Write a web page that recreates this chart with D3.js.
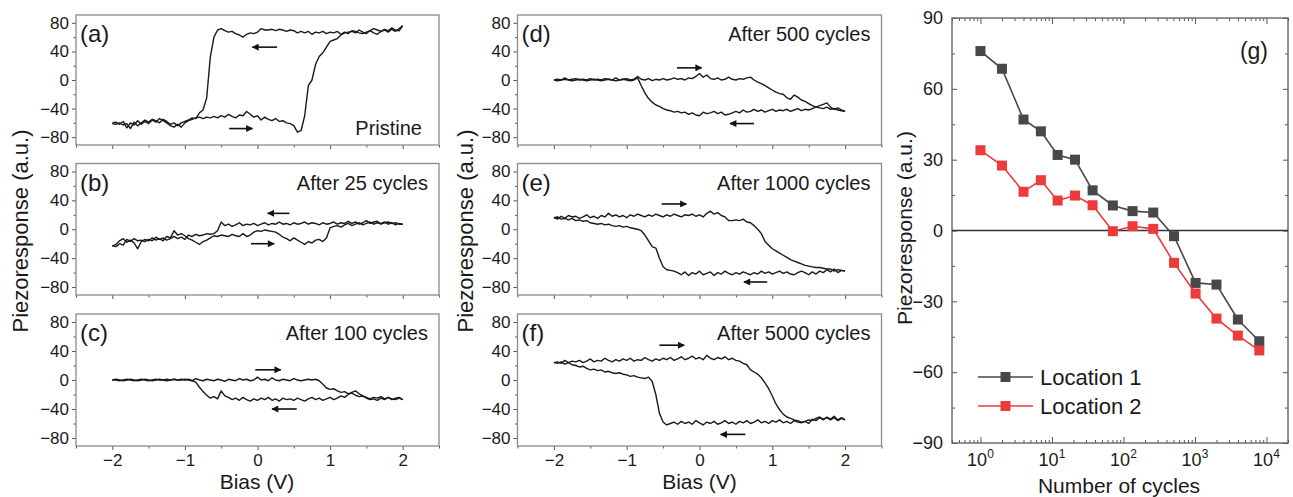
<!DOCTYPE html>
<html>
<head>
<meta charset="utf-8">
<script src="https://cdn.jsdelivr.net/npm/d3@7"></script>
<style>
  body { margin: 0; background: #fff; }
  text { font-family: "Liberation Sans", Arial, sans-serif; fill: #1a1a1a; }
</style>
</head>
<body>
<svg id="fig" width="1293" height="497"></svg>
<script>
// bias sweep (V), shared by all six loops
var bias = [-2, -1.95, -1.9, -1.85, -1.8, -1.75, -1.7, -1.65, -1.6, -1.55,
  -1.5, -1.45, -1.4, -1.35, -1.3, -1.25, -1.2, -1.15, -1.1, -1.05,
  -1, -0.95, -0.9, -0.85, -0.8, -0.75, -0.7, -0.65, -0.6, -0.55,
  -0.5, -0.45, -0.4, -0.35, -0.3, -0.25, -0.2, -0.15, -0.1, -0.05,
  0, 0.05, 0.1, 0.15, 0.2, 0.25, 0.3, 0.35, 0.4, 0.45,
  0.5, 0.55, 0.6, 0.65, 0.7, 0.75, 0.8, 0.85, 0.9, 0.95,
  1, 1.05, 1.1, 1.15, 1.2, 1.25, 1.3, 1.35, 1.4, 1.45,
  1.5, 1.55, 1.6, 1.65, 1.7, 1.75, 1.8, 1.85, 1.9, 1.95, 2];

// (a) pristine
var aFwd = [-60, -59, -62, -58, -67, -60, -63, -57, -62, -58,
  -61, -56, -59, -54, -57, -60, -64, -66, -62, -66,
  -60, -57, -55, -53, -52, -54, -52, -53, -51, -53,
  -50, -52, -48, -51, -53, -49, -50, -44, -48, -52,
  -50, -56, -52, -55, -57, -54, -58, -57, -60, -61,
  -64, -73, -71, -50, -8, 0, 22, 33, 38, 46,
  54, 56, 58, 63, 66, 67, 68, 66, 70, 67,
  65, 69, 66, 64, 68, 70, 67, 71, 68, 72, 76];
var aRev = [-61, -62, -60, -63, -61, -68, -59, -64, -60, -56,
  -59, -55, -57, -60, -55, -58, -62, -60, -64, -60,
  -58, -56, -53, -54, -46, -42, -25, 32, 60, 70,
  72, 69, 67, 68, 65, 63, 60, 64, 66, 65,
  67, 72, 70, 70, 71, 69, 71, 70, 68, 70,
  69, 66, 68, 66, 68, 64, 67, 66, 68, 65,
  67, 66, 68, 64, 67, 65, 69, 68, 66, 65,
  67, 69, 72, 70, 68, 71, 69, 73, 70, 69, 76];

// (b) after 25 cycles
var bFwd = [-23, -21, -16, -13, -18, -15, -19, -27, -17, -14,
  -16, -12, -15, -13, -16, -10, -12, -2, -8, -6,
  -9, -13, -15, -18, -21, -17, -15, -12, -9, -10,
  -8, -9, -10, -7, -9, -10, -6, -10, -8, -4,
  -2, -3, -1, -2, -3, -4, -7, -11, -13, -16,
  -12, -15, -18, -21, -17, -19, -15, -14, -17, -12,
  2, 4, 5, 3, 6, 8, 5, 7, 9, 6,
  8, 10, 7, 9, 8, 10, 7, 9, 6, 8, 7];
var bRev = [-23, -24, -20, -22, -14, -17, -13, -16, -15, -17,
  -14, -16, -11, -14, -12, -15, -13, -10, -13, -11,
  -14, -8, -10, -7, -9, -8, -6, -7, -6, -2,
  10, 5, 7, 4, 6, 9, 5, 7, 6, 8,
  5, 7, 9, 6, 8, 7, 10, 7, 8, 6,
  9, 7, 8, 10, 7, 9, 8, 6, 9, 7,
  8, 10, 7, 9, 8, 11, 8, 10, 7, 9,
  12, 8, 10, 11, 7, 9, 10, 8, 9, 7, 7];

// (c) after 100 cycles
var cFwd = [0, 0, -1, 0, 1, 0, -1, 0, 1, 0,
  -1, 0, 1, 0, 0, 1, 0, 1, 0, 1,
  0, 1, -1, 2, 0, -1, 1, 0, -1, 1,
  0, -2, 1, 0, -1, 2, 0, 1, -1, 0,
  4, 0, 1, -1, 3, 0, -1, 1, 0, -1,
  2, 0, -1, 0, 1, 0, 1, -1, -6, -11,
  -13, -12, -15, -17, -16, -19, -18, -21, -23, -22,
  -25, -27, -26, -28, -25, -27, -24, -26, -27, -25, -27];
var cRev = [0, 1, 0, -1, 0, 1, 0, -1, 0, 1,
  0, -1, 0, 1, 0, -1, 0, 1, 0, 0,
  1, 0, -1, -3, -10, -16, -21, -25, -23, -26,
  -15, -22, -24, -27, -25, -28, -24, -27, -29, -26,
  -28, -25, -27, -24, -28, -26, -29, -25, -27, -26,
  -28, -25, -27, -29, -26, -24, -27, -25, -28, -26,
  -24, -27, -25, -22, -24, -20, -17, -15, -19, -22,
  -24, -26, -24, -25, -23, -26, -24, -27, -25, -24, -27];

// (d) after 500 cycles
var dFwd = [0, 1, 0, 3, 0, 1, 2, 0, 1, 0,
  2, 0, 1, 0, 2, 1, 0, 3, 0, 1,
  2, 0, 1, 5, 1, 0, 2, -1, 1, 0,
  2, 0, 1, 3, 1, 2, 0, 3, 2, 5,
  9, 4, 7, 2, 1, 3, 0, 1, 4, 1,
  0, 2, 1, 3, 4, 0, -3, -5, -8, -11,
  -14, -17, -19, -20, -25, -27, -21, -24, -28, -30,
  -33, -36, -38, -39, -40, -38, -41, -40, -42, -43, -44];
var dRev = [0, -1, 0, 1, 0, -1, 0, 1, 0, -1,
  0, 1, 0, -1, 0, 1, 0, -1, 0, 1,
  0, -1, 0, 3, -8, -18, -26, -31, -35, -37,
  -40, -42, -43, -45, -44, -46, -45, -48, -46, -49,
  -50, -45, -47, -46, -44, -47, -45, -49, -48, -46,
  -44, -46, -42, -45, -44, -41, -44, -42, -45, -43,
  -41, -44, -42, -43, -41, -44, -42, -40, -43, -41,
  -42, -40, -38, -36, -34, -32, -38, -41, -39, -42, -44];

// (e) after 1000 cycles
var eFwd = [16, 14, 18, 15, 19, 17, 18, 15, 17, 20,
  16, 18, 15, 19, 17, 22, 18, 20, 17, 19,
  16, 20, 18, 21, 19, 17, 20, 18, 21, 19,
  17, 20, 18, 21, 19, 17, 20, 19, 21, 18,
  20, 17, 22, 25, 21, 23, 19, 17, 12, 12,
  13, 12, 14, 10, 9, 5, 0, -6, -17, -22,
  -27, -30, -33, -36, -39, -42, -44, -46, -48, -50,
  -51, -52, -53, -53, -54, -55, -55, -58, -56, -57, -58];
var eRev = [16, 17, 14, 15, 13, 15, 12, 13, 11, 12,
  9, 8, 7, 8, 6, 7, 5, 4, 5, 3,
  4, 2, 1, 0, -2, -8, -16, -24, -26, -40,
  -52, -56, -57, -58, -60, -63, -59, -64, -60, -62,
  -58, -63, -61, -59, -64, -60, -62, -58, -61, -63,
  -60, -62, -59, -61, -63, -60, -62, -58, -61, -59,
  -62, -60, -58, -61, -59, -62, -63, -60, -58, -60,
  -63, -59, -62, -58, -60, -56, -59, -55, -60, -57, -58];

// (f) after 5000 cycles
var fFwd = [24, 25, 23, 27, 24, 26, 25, 27, 24, 26,
  29, 25, 27, 26, 30, 27, 25, 28, 26, 29,
  27, 30, 26, 28, 27, 31, 28, 26, 29, 27,
  30, 28, 31, 27, 29, 32, 28, 30, 33, 29,
  31, 28, 34, 30, 28, 31, 29, 32, 28, 30,
  27, 26, 23, 21, 14, 11, 8, 3, -4, -12,
  -22, -33, -41, -47, -51, -53, -55, -56, -58, -57,
  -55, -56, -53, -51, -54, -52, -55, -52, -56, -53, -55];
var fRev = [24, 23, 25, 22, 24, 21, 20, 18, 19, 16,
  14, 15, 13, 14, 11, 12, 10, 9, 10, 8,
  7, 5, 6, 4, 3, 2, 4, -2, -20, -46,
  -58, -62, -60, -58, -61, -57, -60, -58, -61, -56,
  -59, -62, -58, -60, -57, -61, -59, -56, -60, -58,
  -61, -57, -59, -56, -60, -58, -55, -59, -57, -60,
  -56, -58, -55, -59, -57, -60, -56, -58, -59, -57,
  -60, -54, -56, -52, -55, -51, -54, -50, -55, -52, -55];

// sweep-direction arrows: [from bias, to bias, response]
var aArrows = [[-0.39, -0.07, -68], [0.27, -0.07, 46]];
var bArrows = [[0.44, 0.14, 22], [-0.09, 0.23, -20]];
var cArrows = [[-0.03, 0.32, 14], [0.54, 0.2, -40]];
var dArrows = [[-0.31, 0.03, 17], [0.75, 0.42, -61]];
var eArrows = [[-0.52, -0.18, 35], [0.93, 0.61, -73]];
var fArrows = [[-0.55, -0.21, 48], [0.63, 0.29, -75]];

var yMajor = [-80, -40, 0, 40, 80];
var yMinor = [-60, -20, 20, 60];
var xMajor = [-2, -1, 0, 1, 2];
var xMinor = [-2.5, -1.5, -0.5, 0.5, 1.5, 2.5];

// (g) remanent piezoresponse vs cycles
var cycles = [1, 2, 4, 7, 12, 21, 37, 71, 134, 261, 510, 1020, 2000, 3980, 7940];
var loc1 = [76, 68.5, 47, 42, 32, 30, 17, 10.6, 8.2, 7.6, -2.4, -22.2, -22.9, -37.7, -46.9];
var loc2 = [34, 27.5, 16.4, 21.3, 12.7, 14.8, 10.7, -0.3, 1.8, 0.7, -13.7, -26.7, -37.3, -44.5, -50.8];
var gYTicks = [-90, -60, -30, 0, 30, 60, 90];
var gYMinor = [-75, -45, -15, 15, 45, 75];
var gXMajor = [1, 10, 100, 1000, 10000];

var svg = d3.select('#fig');

var defs = svg.append('defs');
defs.append('marker')
  .attr('id', 'ah')
  .attr('viewBox', '0 0 10 10')
  .attr('refX', 9).attr('refY', 5)
  .attr('markerUnits', 'userSpaceOnUse')
  .attr('markerWidth', 9).attr('markerHeight', 7)
  .attr('orient', 'auto')
  .append('path')
  .attr('d', 'M0,0 L10,5 L0,10 Z')
  .attr('fill', '#111');

var colX = [[76, 439], [517.5, 881.5]];
var rowY = [[15, 145], [163.5, 295], [314, 446]];

var panels = [
  { tag: '(a)', note: 'Pristine', fwd: aFwd, rev: aRev, arrows: aArrows, col: 0, row: 0 },
  { tag: '(b)', note: 'After 25 cycles', fwd: bFwd, rev: bRev, arrows: bArrows, col: 0, row: 1 },
  { tag: '(c)', note: 'After 100 cycles', fwd: cFwd, rev: cRev, arrows: cArrows, col: 0, row: 2 },
  { tag: '(d)', note: 'After 500 cycles', fwd: dFwd, rev: dRev, arrows: dArrows, col: 1, row: 0 },
  { tag: '(e)', note: 'After 1000 cycles', fwd: eFwd, rev: eRev, arrows: eArrows, col: 1, row: 1 },
  { tag: '(f)', note: 'After 5000 cycles', fwd: fFwd, rev: fRev, arrows: fArrows, col: 1, row: 2 }
];

function styleAxis(sel, fs) {
  sel.select('.domain').remove();
  sel.selectAll('line').attr('stroke', '#555').attr('stroke-width', 1);
  sel.selectAll('text').style('font-size', fs + 'px').attr('fill', '#1a1a1a');
}

panels.forEach(function(p) {
  var x = d3.scaleLinear().domain([-2.5, 2.5]).range(colX[p.col]);
  var y = d3.scaleLinear().domain([-91, 91]).range([rowY[p.row][1], rowY[p.row][0]]);
  var g = svg.append('g');
  var x0 = x.range()[0], x1 = x.range()[1], yb = y.range()[0], yt = y.range()[1];

  g.append('g').attr('transform', 'translate(' + x0 + ',0)')
    .call(d3.axisLeft(y).tickValues(yMajor).tickSize(4).tickSizeOuter(0).tickPadding(3))
    .call(styleAxis, 17);
  g.append('g').attr('transform', 'translate(' + x0 + ',0)')
    .call(d3.axisLeft(y).tickValues(yMinor).tickSize(2.5).tickSizeOuter(0).tickFormat(''))
    .call(styleAxis, 17);

  var xa = d3.axisBottom(x).tickValues(xMajor).tickSize(4).tickSizeOuter(0).tickPadding(4)
    .tickFormat(p.row === 2 ? d3.format('d') : '');
  g.append('g').attr('transform', 'translate(0,' + yb + ')').call(xa).call(styleAxis, 17);
  g.append('g').attr('transform', 'translate(0,' + yb + ')')
    .call(d3.axisBottom(x).tickValues(xMinor).tickSize(2.5).tickSizeOuter(0).tickFormat(''))
    .call(styleAxis, 17);

  g.append('rect')
    .attr('x', x0).attr('y', yt)
    .attr('width', x1 - x0).attr('height', yb - yt)
    .attr('fill', 'none').attr('stroke', '#8a8a8a').attr('stroke-width', 1.3);

  var line = d3.line()
    .x(function(d, i) { return x(bias[i]); })
    .y(function(d) { return y(d); });
  [p.fwd, p.rev].forEach(function(s) {
    g.append('path').datum(s).attr('d', line)
      .attr('fill', 'none').attr('stroke', '#1a1a1a').attr('stroke-width', 1.4)
      .attr('stroke-linejoin', 'round');
  });

  g.selectAll('line.arrow').data(p.arrows).enter().append('line')
    .attr('class', 'arrow')
    .attr('x1', function(d) { return x(d[0]); })
    .attr('x2', function(d) { return x(d[1]); })
    .attr('y1', function(d) { return y(d[2]); })
    .attr('y2', function(d) { return y(d[2]); })
    .attr('stroke', '#111').attr('stroke-width', 1.6)
    .attr('marker-end', 'url(#ah)');

  g.append('text').attr('x', x0 + 4).attr('y', yt + 27)
    .style('font-size', '24px').text(p.tag);
  var bottomNote = p.note === 'Pristine';
  g.append('text')
    .attr('x', x1 - (bottomNote ? 17 : 11))
    .attr('y', bottomNote ? yb - 10 : yt + 26)
    .attr('text-anchor', 'end')
    .style('font-size', '20px').text(p.note);
});

// shared axis titles for the loop columns
[[20, 257], [465, 699.5]].forEach(function(c) {
  svg.append('text')
    .attr('transform', 'translate(' + c[0] + ',231) rotate(-90)')
    .attr('dy', '0.35em').attr('text-anchor', 'middle')
    .style('font-size', '22px').text('Piezoresponse (a.u.)');
  svg.append('text').attr('x', c[1]).attr('y', 489)
    .attr('text-anchor', 'middle').style('font-size', '21px').text('Bias (V)');
});

// panel (g)
var gx = d3.scaleLog().domain([0.4, 20000]).range([952, 1288]);
var gy = d3.scaleLinear().domain([-90, 90]).range([443, 18]);
var gg = svg.append('g');

var logMinor = [];
[0.1, 1, 10, 100, 1000, 10000].forEach(function(dec) {
  for (var k = 2; k <= 9; k++) {
    var v = dec * k;
    if (v >= 0.4 && v <= 20000) logMinor.push(v);
  }
});

gg.append('g').attr('transform', 'translate(0,443)')
  .call(d3.axisBottom(gx).tickValues(gXMajor).tickSize(-6).tickSizeOuter(0).tickFormat(''))
  .call(styleAxis, 18);
gg.append('g').attr('transform', 'translate(0,443)')
  .call(d3.axisBottom(gx).tickValues(logMinor).tickSize(-3).tickSizeOuter(0).tickFormat(''))
  .call(styleAxis, 18);
gg.append('g').attr('transform', 'translate(0,18)')
  .call(d3.axisTop(gx).tickValues(gXMajor).tickSize(-6).tickSizeOuter(0).tickFormat(''))
  .call(styleAxis, 18);
gg.append('g').attr('transform', 'translate(0,18)')
  .call(d3.axisTop(gx).tickValues(logMinor).tickSize(-3).tickSizeOuter(0).tickFormat(''))
  .call(styleAxis, 18);

gg.append('g').attr('transform', 'translate(952,0)')
  .call(d3.axisLeft(gy).tickValues(gYTicks).tickSize(-5).tickSizeOuter(0).tickPadding(9))
  .call(styleAxis, 18);
gg.append('g').attr('transform', 'translate(952,0)')
  .call(d3.axisLeft(gy).tickValues(gYMinor).tickSize(-3).tickSizeOuter(0).tickFormat(''))
  .call(styleAxis, 18);
gg.append('g').attr('transform', 'translate(1288,0)')
  .call(d3.axisRight(gy).tickValues(gYTicks).tickSize(-5).tickSizeOuter(0).tickFormat(''))
  .call(styleAxis, 18);
gg.append('g').attr('transform', 'translate(1288,0)')
  .call(d3.axisRight(gy).tickValues(gYMinor).tickSize(-3).tickSizeOuter(0).tickFormat(''))
  .call(styleAxis, 18);

// log tick labels as 10^n
var lab = gg.selectAll('text.dec').data(gXMajor).enter().append('text')
  .attr('class', 'dec')
  .attr('x', function(d) { return gx(d); })
  .attr('y', 466)
  .attr('text-anchor', 'middle')
  .style('font-size', '18px');
lab.append('tspan').text('10');
lab.append('tspan').attr('dy', -8).style('font-size', '12px')
  .text(function(d) { return Math.round(Math.log10(d)); });

gg.append('rect').attr('x', 952).attr('y', 18).attr('width', 336).attr('height', 425)
  .attr('fill', 'none').attr('stroke', '#666').attr('stroke-width', 1.4);

gg.append('line').attr('x1', 952).attr('x2', 1288)
  .attr('y1', gy(0)).attr('y2', gy(0))
  .attr('stroke', '#333').attr('stroke-width', 1.3);

var series = [
  { name: 'Location 1', vals: loc1, color: '#484848' },
  { name: 'Location 2', vals: loc2, color: '#ee3a3a' }
];
var gline = d3.line()
  .x(function(d, i) { return gx(cycles[i]); })
  .y(function(d) { return gy(d); });

series.forEach(function(s, si) {
  gg.append('path').datum(s.vals).attr('d', gline)
    .attr('fill', 'none').attr('stroke', s.color).attr('stroke-width', 1.6);
  gg.selectAll('rect.m' + si).data(s.vals).enter().append('rect')
    .attr('class', 'm' + si)
    .attr('x', function(d, i) { return gx(cycles[i]) - 5; })
    .attr('y', function(d) { return gy(d) - 5; })
    .attr('width', 10).attr('height', 10)
    .attr('fill', s.color);

  var ly = 377 + si * 29;
  gg.append('line').attr('x1', 978).attr('x2', 1033).attr('y1', ly).attr('y2', ly)
    .attr('stroke', s.color).attr('stroke-width', 1.6);
  gg.append('rect').attr('x', 1000.5).attr('y', ly - 5).attr('width', 10).attr('height', 10)
    .attr('fill', s.color);
  gg.append('text').attr('x', 1040).attr('y', ly + 8)
    .style('font-size', '22px').text(s.name);
});

gg.append('text').attr('x', 1268).attr('y', 59).attr('text-anchor', 'end')
  .style('font-size', '23px').text('(g)');

svg.append('text')
  .attr('transform', 'translate(905,228) rotate(-90)')
  .attr('dy', '0.35em').attr('text-anchor', 'middle')
  .style('font-size', '21px').text('Piezoresponse (a.u.)');
svg.append('text').attr('x', 1119).attr('y', 493)
  .attr('text-anchor', 'middle').style('font-size', '21px').text('Number of cycles');
</script>
</body>
</html>
